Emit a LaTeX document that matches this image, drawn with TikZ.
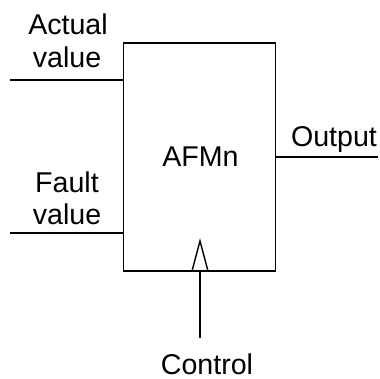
\documentclass[tikz,border=0pt]{standalone}
\usepackage{fontspec}
\setmainfont{Liberation Sans}
\begin{document}
\begin{tikzpicture}[x=1pt,y=-1pt,
  wire/.style={line width=1.4pt},
  lbl/.style={font=\fontsize{28.6}{32}\selectfont, inner sep=0pt, anchor=base}]
\useasboundingbox (0,0) rectangle (380,379);
\node[draw, line width=1.4pt, minimum width=152pt, minimum height=228pt, inner sep=0pt] (box) at (199.5,157) {};
\node[lbl] (afm) at (200.5,166.5) {AFMn};
\coordinate (in1) at (10,80);
\coordinate (in2) at (10,233);
\coordinate (out) at (378,157);
\coordinate (ctl) at (200,338);
\draw[wire] (in1) -- (in1 -| box.west);
\draw[wire] (in2) -- (in2 -| box.west);
\draw[wire] (box.east |- out) -- (out);
\draw[wire] (ctl) -- (ctl |- box.south);
\draw[wire] (192,271) -- (200,241) -- (208,271);
\node[lbl] (act) at (68,35) {Actual};
\node[lbl] (actv) at (67,68) {value};
\node[lbl] (flt) at (67,193) {Fault};
\node[lbl] (fltv) at (67,224.5) {value};
\node[lbl] (outl) at (334,147) {Output};
\node[lbl] (ctlt) at (207,374) {Control};
\end{tikzpicture}
\end{document}
